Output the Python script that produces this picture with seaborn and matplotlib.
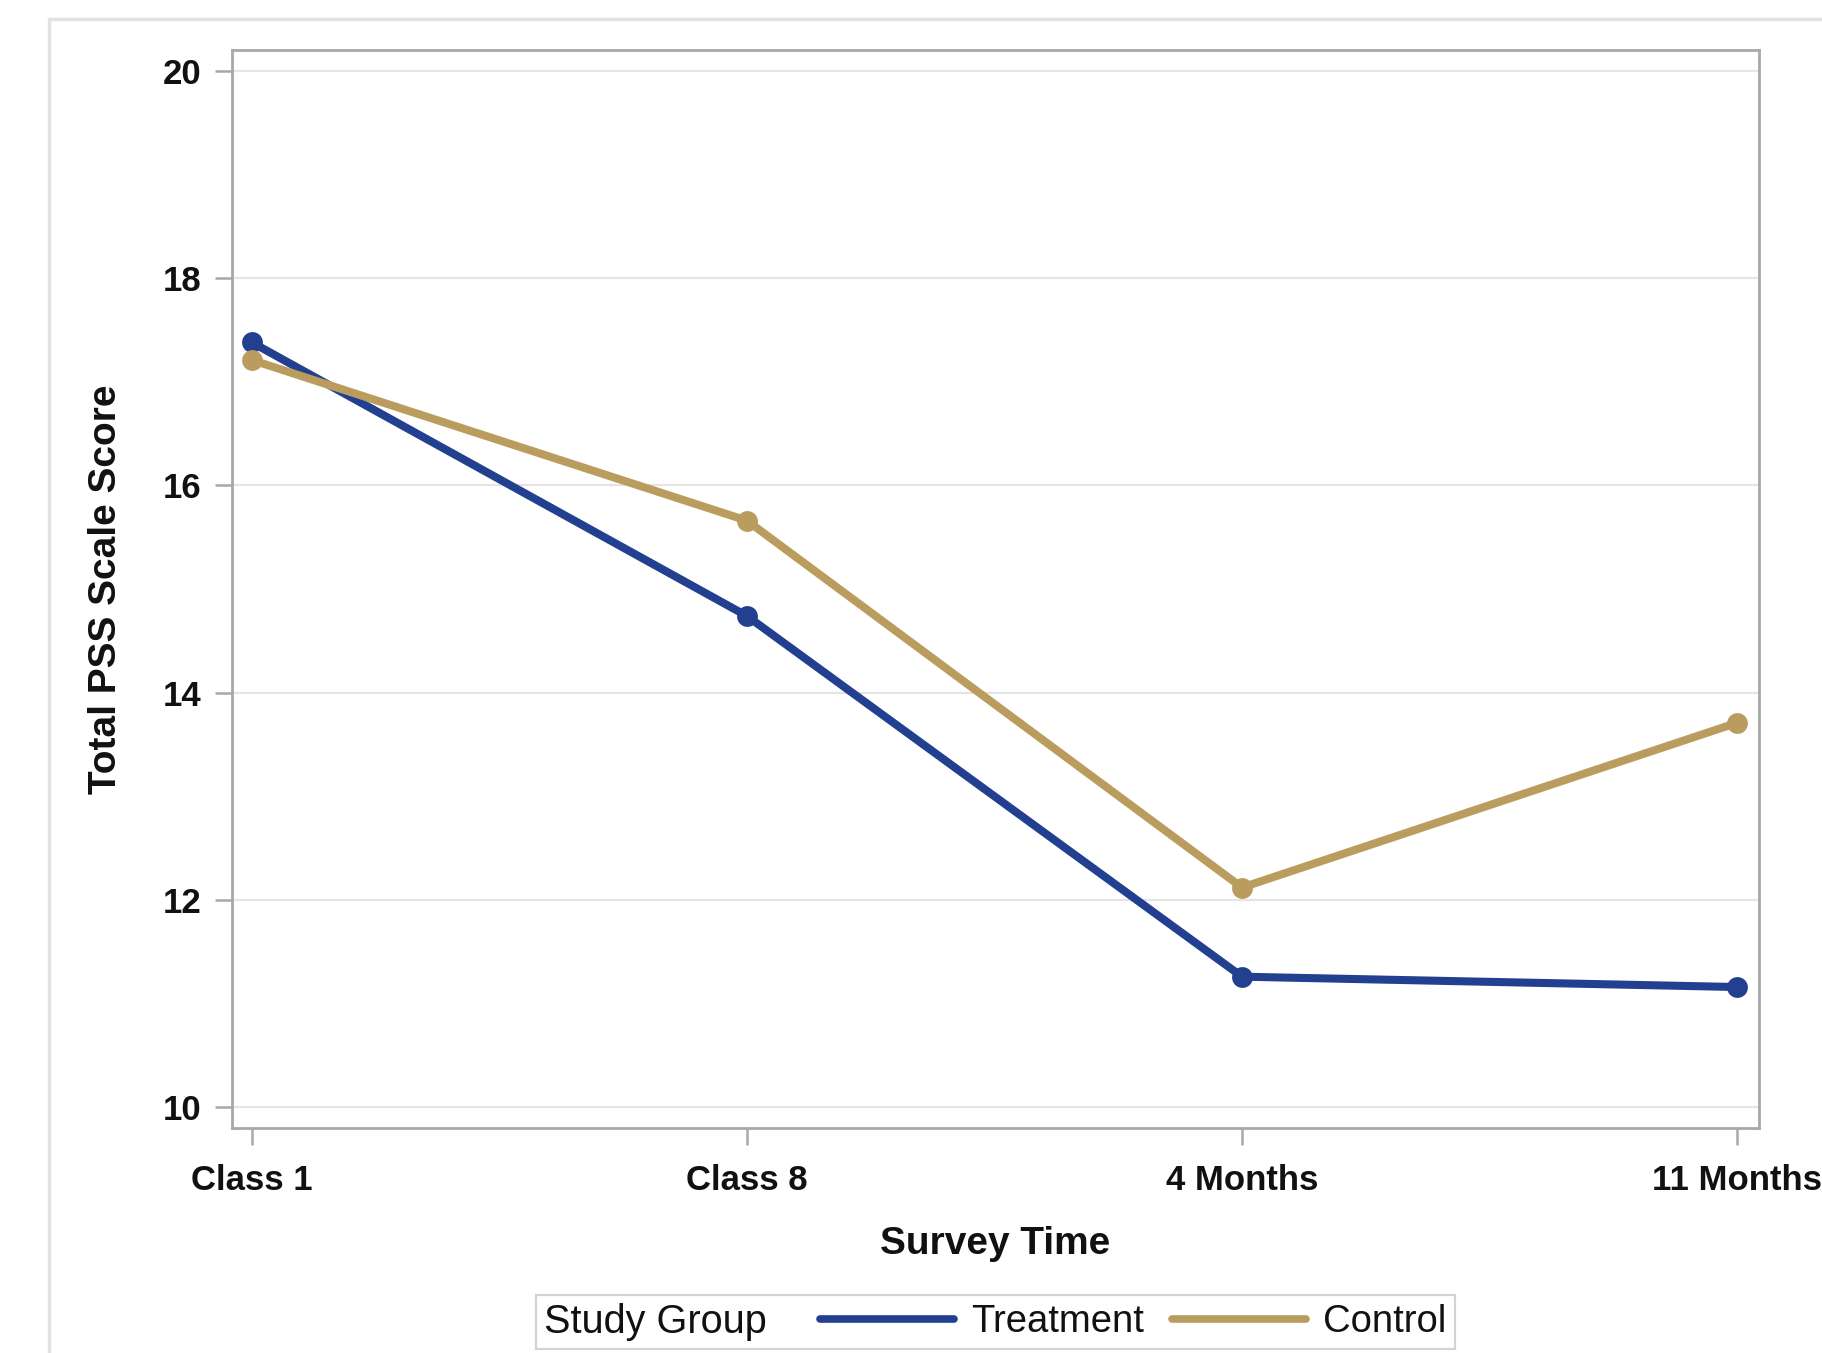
import pandas as pd
import numpy as np
import matplotlib.pyplot as plt
import seaborn as sns
from matplotlib.lines import Line2D
from matplotlib.offsetbox import HPacker

# ---------------------------------------------
# Data
# ---------------------------------------------
survey_times = ['Class 1', 'Class 8', '4 Months', '11 Months']
treatment = [17.38, 14.74, 11.26, 11.16]
control = [17.21, 15.66, 12.12, 13.71]
groups = ['Treatment', 'Control']
colors = ['#22408F', '#BA9D5E']

df = pd.DataFrame({
    'Survey Time': survey_times * 2,
    'Score': treatment + control,
    'Study Group': [groups[0]] * 4 + [groups[1]] * 4,
})

# ---------------------------------------------
# Style
# ---------------------------------------------
sns.set_style('white')
plt.rcParams['font.family'] = ['Liberation Sans', 'DejaVu Sans']
plt.rcParams['text.color'] = '#111111'

fig = plt.figure(figsize=(18.22, 13.53), dpi=100)
ax = fig.add_axes([0.1273, 0.1663, 0.8381, 0.7967])

sns.lineplot(
    data=df, x='Survey Time', y='Score', hue='Study Group',
    palette=dict(zip(groups, colors)), sort=False,
    marker='o', markersize=15, markeredgewidth=0, linewidth=5.8,
    legend=False, ax=ax
)

ax.set_xlim(-0.04, 3.044)
ax.set_ylim(9.8, 20.2)
ax.set_yticks(np.arange(10, 21, 2))
ax.set_xticks(range(len(survey_times)))
ax.set_xticklabels(survey_times)

ax.grid(axis='y', color='#e4e4e4', linewidth=1.6)
ax.set_axisbelow(True)
for s in ax.spines.values():
    s.set_color('#a8a8a8')
    s.set_linewidth(2.0)

ax.tick_params(axis='both', which='major', bottom=True, left=True, length=12,
               width=1.8, color='#a8a8a8', labelsize=25, labelcolor='#111111', pad=10)
ax.tick_params(axis='x', pad=14)
for lab in ax.get_xticklabels() + ax.get_yticklabels():
    lab.set_fontweight('bold')

ax.set_xlabel('Survey Time', fontsize=28, fontweight='bold', labelpad=21, color='#111111')
ax.set_ylabel('Total PSS Scale Score', fontsize=28, fontweight='bold', labelpad=28,
              color='#111111')

# ---------------------------------------------
# Legend with inline title
# ---------------------------------------------
handles = [Line2D([], [], color=c, linewidth=5.5) for c in colors]
leg = ax.legend(handles, groups, title='Study Group', ncol=2,
                loc='center', bbox_to_anchor=(0.5, -0.180),
                fontsize=27.5, title_fontsize=28.5, frameon=True, fancybox=False,
                edgecolor='#c8c8c8', handlelength=3.5, handletextpad=0.45,
                columnspacing=0.75, borderpad=0.22, borderaxespad=0)
leg.get_frame().set_linewidth(1.6)
vp = leg._legend_box
title_box, handle_box = vp.get_children()
vp._children = [HPacker(children=[title_box, handle_box], sep=38, pad=0, align='center')]

# screenshot frame
fig.add_artist(Line2D([0.027, 0.027], [0, 0.986], color='#e2e2e2', linewidth=2.5))
fig.add_artist(Line2D([0.027, 1.0], [0.986, 0.986], color='#e2e2e2', linewidth=2.5))

fig.savefig('out.png', dpi=100)
